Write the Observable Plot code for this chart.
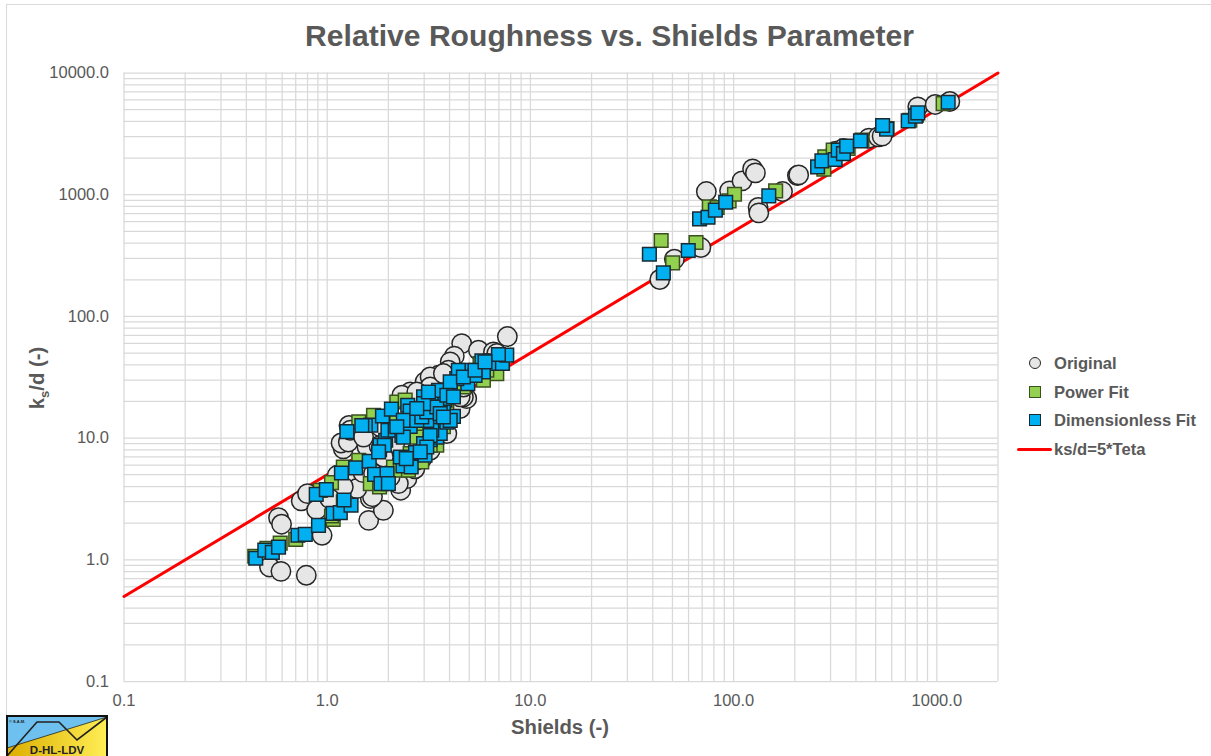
<!DOCTYPE html>
<html>
<head>
<meta charset="utf-8">
<script src="https://cdn.jsdelivr.net/npm/d3@7"></script>
<script src="https://cdn.jsdelivr.net/npm/@observablehq/plot@0.6"></script>
<style>
html,body{margin:0;padding:0;background:#fff;overflow:hidden;width:1211px;height:756px}
#wrap{position:relative;width:1211px;height:756px;overflow:hidden;font-family:"Liberation Sans",Arial,sans-serif;color:#595959}
#wrap>svg.plot{position:absolute;left:0;top:0}
#border{position:absolute;left:6px;top:4px;width:1300px;height:800px;border-left:1px solid #d9d9d9;border-top:1px solid #d9d9d9}
#title{position:absolute;left:0;width:1219px;top:18px;text-align:center;font-weight:bold;font-size:30.1px;line-height:36px}
#xlabel{position:absolute;left:460px;width:200px;top:716px;text-align:center;font-weight:bold;font-size:20.3px;line-height:22px}
#ylabel{position:absolute;left:-63px;width:200px;top:367px;text-align:center;font-weight:bold;font-size:20.3px;line-height:22px;transform:rotate(-90deg)}
#ylabel sub{font-size:13px;line-height:0}
.lg{position:absolute;left:1054px;font-weight:bold;font-size:16.6px;line-height:20px;white-space:nowrap}
.sw{position:absolute;box-sizing:border-box}
#logo{position:absolute;left:6px;top:715px}
</style>
</head>
<body>
<div id="wrap">
<div id="border"></div>
<div id="title">Relative Roughness vs. Shields Parameter</div>
<div id="xlabel">Shields (-)</div>
<div id="ylabel">k<sub>s</sub>/d (-)</div>
<div class="sw" style="left:1029px;top:357px;width:12px;height:12px;border-radius:50%;background:#e6e6e6;border:1.5px solid #262626"></div>
<div class="lg" style="top:354px">Original</div>
<div class="sw" style="left:1029px;top:386px;width:12px;height:12px;background:#92d050;border:1.5px solid #3b4f1f"></div>
<div class="lg" style="top:383px">Power Fit</div>
<div class="sw" style="left:1029px;top:414px;width:12px;height:12px;background:#00b0f0;border:1.5px solid #1a2a33"></div>
<div class="lg" style="top:411px">Dimensionless Fit</div>
<div class="sw" style="left:1017px;top:448px;width:35px;height:3px;background:#ff0000;border-radius:2px"></div>
<div class="lg" style="top:440px">ks/d=5*Teta</div>
<svg id="logo" width="102" height="41" viewBox="0 0 102 41">
<defs><linearGradient id="gy" x1="0" x2="1" y1="0" y2="0"><stop offset="0" stop-color="#dcae00"/><stop offset="1" stop-color="#ffee55"/></linearGradient></defs>
<rect x="1" y="1" width="100" height="42" fill="#6ec1ee"/>
<polygon points="1,33 101,2 101,43 1,43" fill="url(#gy)"/>
<line x1="1" y1="33" x2="101" y2="2" stroke="#222" stroke-width="0.8"/>
<polyline points="1,41 31,7 53,7 71,25 101,2" fill="none" stroke="#222" stroke-width="1.6"/>
<rect x="1" y="1" width="100" height="42" fill="none" stroke="#111" stroke-width="2"/>
<text x="3" y="7.5" font-size="4" font-weight="bold" fill="#222" font-family="Liberation Sans">© S.A.M.</text>
<text x="51" y="38.5" font-size="11.5" font-weight="bold" fill="#222" text-anchor="middle" font-family="Liberation Sans">D-HL-LDV</text>
</svg>
</div>
<script>
const xTickValues = [0.1, 1, 10, 100, 1000];
const yTickValues = [0.1, 1, 10, 100, 1000, 10000];
const xGridMultipliers = [1, 2, 3, 4, 5, 6, 7, 8, 9];

const lineX = [0.1, 2000];
const lineY = [0.5, 10000];

const originalX = [0.52,0.592,0.789,0.576,0.596,0.944,0.745,0.80,0.887,1.6,1.89,1.63,1.67,2.3,2.47,2.24,1.37,1.4,1.12,1.2,1.03,1.2,1.17,1.27,1.28,1.3,1.69,1.57,2.29,2.92,4.51,4.86,4.59,7.7,4.22,5.55,6.58,6.83,4.03,3.53,3.03,2.56,2.33,3.95,3.21,4.68,1.8,2.1,2.7,3.2,3.5,1.5,2.0,2.6,
  2.2,1.89,1.69,2.04,2.76,3.21,3.88,4.51,2.66,1.82,1.51,4.68,3.21,2.76,3.73,
  43.3,51.1,69,73.4,95.5,110,124,128,132,133,174,206,209,318,347,463,515,538,806,981,1159];
const originalY = [0.873,0.804,0.746,2.22,1.96,1.59,3.05,3.5,2.58,2.11,2.55,3.18,3.3,3.73,4.65,4.23,4.36,3.85,4.95,3.97,3.18,8.15,9.12,9.3,12.7,11.6,10.5,8.45,7.94,6.79,17.5,21.1,59.8,68.3,47.1,52.7,51.1,49.5,42.3,32.8,29,23.9,22.5,36.1,31.8,21.8,8.6,7.2,5.6,8.0,10.5,5.2,10.2,14.5,
  9.01,7,5.11,4.8,6.58,7.94,10.9,21.8,8.45,12.4,10.2,26.3,26.3,23.9,33.9,
  201,295,368,1062,1076,1300,1630,1511,785,709,1062,1437,1454,2279,2398,2913,2987,3027,5272,5513,5834];

const powerX = [0.44,0.505,0.587,0.70,1.07,1.05,1.2,0.925,1.05,1.2,1.43,1.63,1.81,2.12,2.29,2.51,2.92,3.46,1.43,1.69,2.2,2.42,2.92,3.21,6.83,5.87,5.65,3.88,4.86,
  2.2,2.76,3.73,3.46,2.56,3.21,4.68,6.1,
  44,50.1,65.3,75.9,83,95,101,161,281,278,309,366,428,569,736,794,1074];
const powerY = [1.07,1.24,1.37,1.47,2.15,2.29,2.99,3.72,4.31,5.79,6.58,4.23,3.97,5.79,5.44,5.44,6.37,8.73,13.6,15.4,19.8,20.5,12.7,11.6,33.9,29.9,41,16.9,28,
  14,10.2,12.4,10.9,7.46,8.73,26.3,36.1,
  420,275,405,794,785,890,1009,1076,2047,1620,2323,2398,2806,3499,4093,4500,5610];

const dimensionlessX = [0.445,0.493,0.537,0.576,0.718,0.78,0.906,1.07,1.16,1.31,1.21,0.883,0.99,1.175,1.38,1.61,1.71,1.97,1.84,2.0,2.36,2.59,2.29,2.72,3.03,3.21,3.46,3.6,2.98,1.81,1.82,1.94,1.99,2.16,2.33,2.56,1.64,1.54,1.48,1.25,1.87,2.07,2.49,2.56,2.81,3.21,3.27,3.33,3.8,4.03,3.53,2.98,3.21,3.46,3.88,4.18,3.27,3.73,4.51,4.92,4.34,4.9,5.77,6.33,6.83,7.28,7.65,6.96,4.42,5.87,5.34,4.03,2.98,3.09,
  1.91,1.79,2.37,2.37,2.2,2.76,2.92,3.09,3.46,3.6,4.03,2.98,2.76,3.15,3.88,4.18,4.68,5.34,5.98,3.73,3.21,3.09,2.87,2.45,
  38.5,45.1,59.8,68,74.8,81.3,91.4,149,259,272,316,327,347,360,421,566,541,723,785,806,1137];
const dimensionlessY = [1.03,1.2,1.15,1.27,1.59,1.62,1.92,2.41,2.44,2.81,3.1,3.45,3.77,5.17,5.69,6.45,5.04,5.11,4.23,4.23,5.91,5.79,7.0,7.6,7.23,9.72,10.2,10.9,9.01,8.04,8.73,9.6,11.6,11.6,10.5,12.5,12.8,12.7,12.7,11.3,15.2,17.3,18.6,16.7,15.4,22.5,20.5,18.0,20.5,23.2,24.7,21.8,14.9,14.0,13.5,15.1,11.6,16.4,32.8,28.0,30.8,36.1,43.1,43.1,41,41,48,48.6,36.1,35,32.8,29,16.9,14.0,
  8.73,7.7,14,10.2,12.4,14,14.9,16.4,18,15.9,14,19.2,17.5,23.9,22.5,21.8,31.8,36.1,42.3,14.9,10.5,8.45,7.7,6.79,
  324,228,348,633,653,746,867,978,1694,1897,1945,2323,2178,2504,2768,3454,3700,4046,4417,4707,5754];

const xGrid = [];
for (const d of [0.1, 1, 10, 100]) for (const m of xGridMultipliers) xGrid.push(d * m);
xGrid.push(1000, 2000);
const yGrid = [];
for (const d of [0.1, 1, 10, 100, 1000]) for (const m of xGridMultipliers) yGrid.push(d * m);
yGrid.push(10000);

const fmt = d => d.toFixed(1);
const gridStyle = {stroke: "#d9d9d9", strokeWidth: 1.25, strokeOpacity: 1};

const chart = Plot.plot({
  width: 1211,
  height: 756,
  marginLeft: 123.5,
  marginRight: 213.5,
  marginTop: 72.5,
  marginBottom: 75,
  style: {background: "transparent", fontFamily: '"Liberation Sans",Arial,sans-serif', overflow: "visible"},
  x: {type: "log", domain: [0.1, 2000]},
  y: {type: "log", domain: [0.1, 10000]},
  marks: [
    Plot.gridX(xGrid, gridStyle),
    Plot.gridY(yGrid, gridStyle),
    Plot.axisX({ticks: xTickValues, tickFormat: fmt, tickSize: 0, tickPadding: 13, fontSize: 16.5, fill: "#595959", label: null}),
    Plot.axisY({ticks: yTickValues, tickFormat: fmt, tickSize: 0, tickPadding: 15, fontSize: 16.5, fill: "#595959", label: null}),
    Plot.line(d3.zip(lineX, lineY), {x: d => d[0], y: d => d[1], stroke: "#ff0000", strokeWidth: 3}),
    Plot.dot(d3.zip(originalX, originalY), {x: d => d[0], y: d => d[1], r: 9.7, fill: "#e6e6e6", fillOpacity: 1, stroke: "#262626", strokeWidth: 1.5}),
    Plot.dot(d3.zip(powerX, powerY), {x: d => d[0], y: d => d[1], symbol: "square", r: 7.7, fill: "#92d050", stroke: "#3b4f1f", strokeWidth: 1.5}),
    Plot.dot(d3.zip(dimensionlessX, dimensionlessY), {x: d => d[0], y: d => d[1], symbol: "square", r: 7.7, fill: "#00b0f0", stroke: "#1a2a33", strokeWidth: 1.5})
  ]
});
document.getElementById("wrap").insertBefore(chart, document.getElementById("border").nextSibling);
</script>
</body>
</html>
